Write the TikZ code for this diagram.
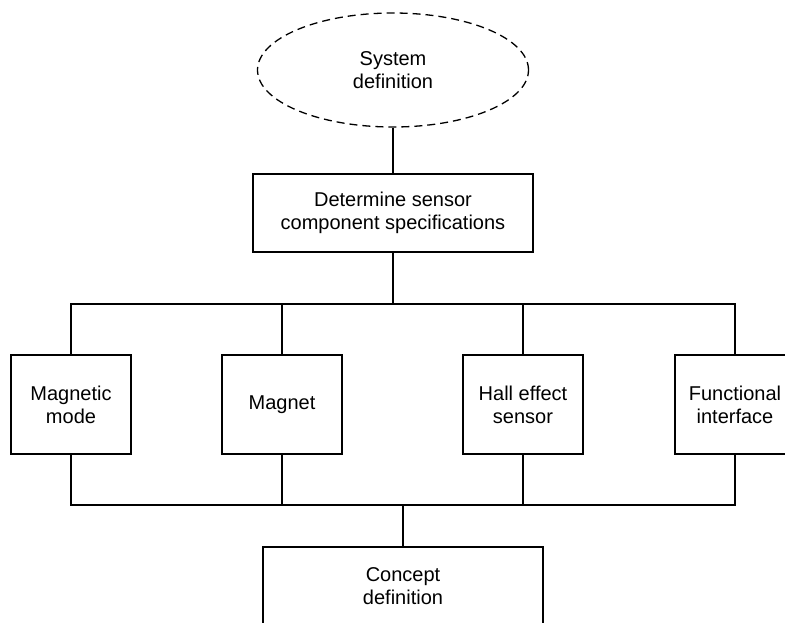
\documentclass[tikz,border=0pt]{standalone}
\usepackage{fontspec}
\setmainfont{Liberation Sans}
\usetikzlibrary{shapes.geometric}
\begin{document}
\begin{tikzpicture}[x=1pt,y=-1pt,line width=1.3pt,
  lbl/.style={font=\fontsize{20}{23}\selectfont,align=center,inner sep=0pt},
  stepbox/.style={lbl,draw,rectangle},
  compbox/.style={stepbox,minimum width=120pt,minimum height=99pt},
  widebox/.style={stepbox,minimum width=280pt,minimum height=78pt},
  goal/.style={lbl,draw,ellipse,dash pattern=on 8pt off 5pt,minimum width=271pt,minimum height=114pt}]
\useasboundingbox (0,0) rectangle (785,622);
\clip (0,0) rectangle (785,622);

% top of the hierarchy
\node[goal] (sys) at (393,70) {System\\definition};
\node[widebox] (det) at (393,213) {Determine sensor\\component specifications};

% sensor components
\node[compbox] (mm) at (71,404.5) {Magnetic\\mode};
\node[compbox] (mg) at (282,404.5) {Magnet};
\node[compbox] (hs) at (523,404.5) {Hall effect\\sensor};
\node[compbox] (fi) at (735,404.5) {Functional\\interface};

% result
\node[widebox] (cd) at (403,586) {Concept\\definition};

% bus junctions
\coordinate (tb) at (393,304);
\coordinate (bb) at (403,505);

\draw (sys.south) -- (det.north);
\draw (det.south) -- (tb);
\draw (mm.north) |- (tb) -| (fi.north);
\draw (mg.north) -- (mg.north |- tb);
\draw (hs.north) -- (hs.north |- tb);

\draw (mm.south) |- (bb) -| (fi.south);
\draw (mg.south) -- (mg.south |- bb);
\draw (hs.south) -- (hs.south |- bb);
\draw (bb) -- (cd.north);
\end{tikzpicture}
\end{document}
